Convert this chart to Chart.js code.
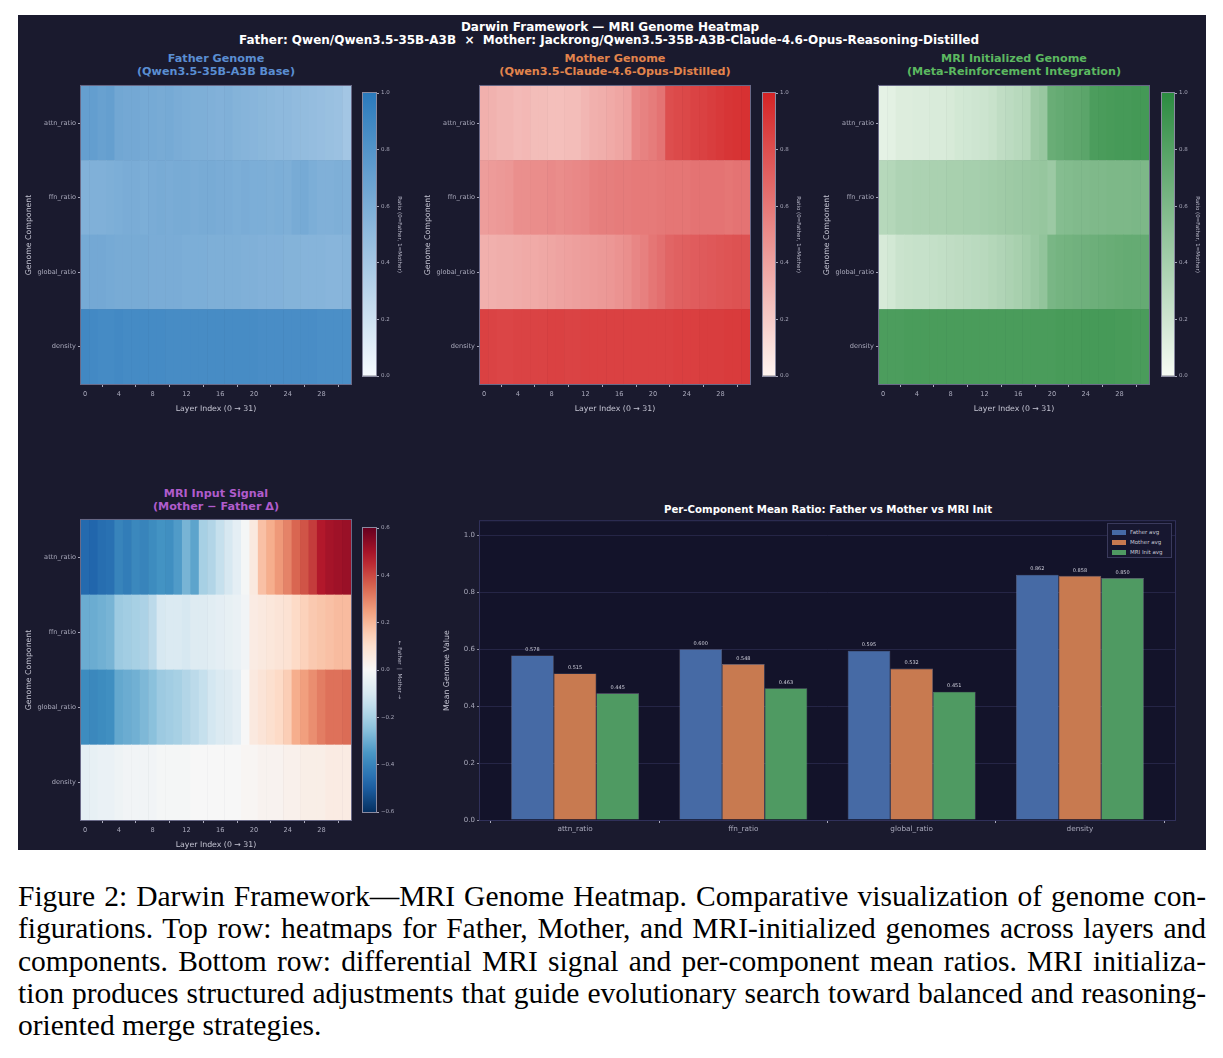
<!DOCTYPE html>
<html>
<head>
<meta charset="utf-8">
<script src="https://cdn.jsdelivr.net/npm/chart.js@4.4.1/dist/chart.umd.min.js"></script>
<style>
  body { margin: 0; background: #fff; width: 1223px; height: 1058px; position: relative; overflow: hidden; font-family: "DejaVu Sans", sans-serif; }
  #fig { position: absolute; left: 18px; top: 15px; width: 1188px; height: 835px; background: #1a1a2e; }
  canvas { position: absolute; }
  .t { position: absolute; text-align: center; font-weight: bold; white-space: nowrap; transform: translateX(-50%); line-height: 13px; font-size: 11.2px; }
  .cap { position: absolute; left: 18px; width: 1188px; font-family: "Liberation Serif", "Times New Roman", serif; font-size: 29.5px; line-height: 32px; color: #000; white-space: nowrap; }
  #leg { position: absolute; z-index: 10; left: 1107px; top: 523px; width: 65px; height: 35px; border: 1px solid #3a3a5c; background: #171730; font-size: 5.5px; color: #c8c8d4; box-sizing: border-box; padding: 3px 0 0 4px; }
  #leg div { height: 10px; line-height: 10px; white-space: nowrap; }
  #leg span { display: inline-block; width: 14px; height: 5px; margin-right: 4px; vertical-align: middle; }
</style>
</head>
<body>
<div id="fig"></div>

<div class="t" style="left:610px;top:21px;color:#fff;font-size:12px">Darwin Framework — MRI Genome Heatmap</div>
<div class="t" style="left:609px;top:34px;color:#fff;font-size:12px">Father: Qwen/Qwen3.5-35B-A3B &nbsp;×&nbsp; Mother: Jackrong/Qwen3.5-35B-A3B-Claude-4.6-Opus-Reasoning-Distilled</div>

<div class="t" style="left:216px;top:52px;color:#5a8ed2">Father Genome<br>(Qwen3.5-35B-A3B Base)</div>
<div class="t" style="left:615px;top:52px;color:#e2844c">Mother Genome<br>(Qwen3.5-Claude-4.6-Opus-Distilled)</div>
<div class="t" style="left:1014px;top:52px;color:#5cb860">MRI Initialized Genome<br>(Meta-Reinforcement Integration)</div>
<div class="t" style="left:216px;top:487px;color:#b05ccc">MRI Input Signal<br>(Mother − Father Δ)</div>
<div class="t" style="left:828px;top:503px;color:#fff;font-size:10.2px">Per-Component Mean Ratio: Father vs Mother vs MRI Init</div>

<div id="leg">
  <div><span style="background:#466aa5"></span>Father avg</div>
  <div><span style="background:#c87a50"></span>Mother avg</div>
  <div><span style="background:#4f9a62"></span>MRI Init avg</div>
</div>

<div class="cap just" style="top:880px"><span>Figure 2: Darwin Framework—MRI Genome Heatmap. Comparative visualization of genome con-</span></div>
<div class="cap just" style="top:912px"><span>figurations. Top row: heatmaps for Father, Mother, and MRI-initialized genomes across layers and</span></div>
<div class="cap just" style="top:945px"><span>components. Bottom row: differential MRI signal and per-component mean ratios. MRI initializa-</span></div>
<div class="cap just" style="top:977px"><span>tion produces structured adjustments that guide evolutionary search toward balanced and reasoning-</span></div>
<div class="cap" style="top:1009px"><span>oriented merge strategies.</span></div>

<script>
// ---- data ----
var components = ["attn_ratio", "ffn_ratio", "global_ratio", "density"];
var layers = [];
for (var i = 0; i < 32; i++) layers.push(i);

var fatherAttn = [0.71,0.72,0.70,0.71, 0.65,0.64,0.64,0.63,0.63,0.62,0.63,0.61, 0.60,0.59,0.59,0.58,0.57,0.58,0.56,0.55, 0.54,0.53,0.52,0.51,0.51,0.50,0.49,0.48, 0.47,0.46,0.45,0.41];
var fatherFfn = [0.57,0.58,0.58,0.59, 0.60,0.61,0.61,0.60,0.61,0.62,0.61,0.62, 0.62,0.61,0.62,0.62,0.61,0.61,0.60,0.61, 0.60,0.60,0.59,0.60,0.59,0.62,0.63,0.60, 0.58,0.58,0.59,0.58];
var fatherGlobal = [0.63,0.64,0.64,0.63, 0.62,0.62,0.62,0.62,0.61,0.61,0.61,0.61, 0.60,0.60,0.60,0.59,0.59,0.59,0.59,0.58, 0.58,0.57,0.57,0.57,0.56,0.56,0.55,0.55, 0.55,0.54,0.54,0.55];
var fatherDensity = [0.89,0.88,0.87,0.87, 0.88,0.87,0.87,0.87,0.87,0.87,0.86,0.86, 0.86,0.86,0.86,0.86,0.86,0.86,0.86,0.86, 0.86,0.85,0.85,0.85,0.85,0.85,0.85,0.85, 0.84,0.84,0.84,0.84];

var motherAttn = [0.33,0.32,0.30,0.30, 0.28,0.29,0.27,0.27,0.26,0.26,0.27,0.27, 0.30,0.33,0.34,0.36,0.38,0.40,0.52,0.55, 0.58,0.62,0.80,0.82,0.83,0.85,0.86,0.88, 0.90,0.92,0.93,0.94];
var motherFfn = [0.42,0.43,0.44,0.45, 0.49,0.49,0.50,0.50,0.51,0.50,0.51,0.52, 0.53,0.56,0.57,0.57,0.58,0.58,0.59,0.59, 0.59,0.60,0.61,0.61,0.61,0.62,0.62,0.62, 0.62,0.61,0.62,0.62];
var motherGlobal = [0.33,0.33,0.34,0.34,0.35,0.36,0.36,0.37, 0.38,0.39,0.40,0.41,0.42,0.43,0.44,0.45, 0.47,0.49,0.53,0.56,0.61,0.64, 0.69,0.71,0.72,0.73,0.74,0.75,0.76,0.77,0.78,0.78];
var motherDensity = [0.86,0.85,0.84,0.84, 0.85,0.85,0.85,0.85,0.86,0.86,0.85,0.85, 0.86,0.86,0.86,0.86,0.86,0.86,0.86,0.86, 0.86,0.86,0.86,0.87,0.87,0.87,0.88,0.88, 0.88,0.89,0.89,0.90];

var mriAttn = [0.09,0.10,0.13,0.13,0.14,0.14,0.15,0.15,0.16, 0.18,0.19,0.20,0.21,0.23, 0.27,0.29,0.31,0.33, 0.44,0.47, 0.70,0.72,0.74,0.75,0.77, 0.84,0.85,0.86,0.87,0.87,0.88,0.88];
var mriFfn = [0.32,0.33,0.36,0.36,0.37,0.37,0.38,0.38,0.39,0.39, 0.40,0.40,0.41,0.42,0.43,0.44,0.45,0.46,0.47,0.48, 0.45, 0.56,0.57,0.58,0.58,0.59,0.59,0.60,0.60,0.60,0.61,0.60];
var mriGlobal = [0.16,0.18, 0.22,0.23,0.24,0.24,0.25,0.26,0.27,0.28,0.29,0.30,0.31, 0.33,0.35,0.37,0.39,0.42,0.46,0.50, 0.62,0.64,0.65,0.66,0.67,0.68,0.69,0.70,0.71,0.72,0.72,0.72];
var mriDensity = [0.84,0.84,0.84,0.85, 0.85,0.85,0.85,0.85,0.85,0.85,0.85,0.85, 0.85,0.85,0.85,0.85,0.85,0.85,0.85,0.85, 0.85,0.86,0.86,0.86,0.87,0.87,0.87,0.87, 0.86,0.86,0.85,0.85];

var signalAttn = [-0.47,-0.48,-0.46,-0.45, -0.40,-0.42,-0.39,-0.40, -0.38,-0.36,-0.37,-0.34, -0.28,-0.32,-0.20,-0.18, -0.14,-0.10,-0.06,-0.01, 0.06,0.18,0.22,0.26, 0.30,0.35,0.38,0.42, 0.48,0.50,0.51,0.52];
var signalFfn = [-0.30,-0.30,-0.29,-0.28, -0.22,-0.21,-0.20,-0.19,-0.16, -0.10,-0.09,-0.09,-0.10,-0.08,-0.08,-0.07, -0.06,-0.05,-0.04,-0.02, 0.05,0.06,0.07,0.08,0.09, 0.12,0.14,0.16,0.17,0.18,0.19,0.19];
var signalGlobal = [-0.38,-0.39,-0.38,-0.37, -0.31,-0.30,-0.29,-0.27,-0.25, -0.22,-0.21,-0.20,-0.18,-0.16,-0.14, -0.11,-0.09,-0.08,-0.06, 0.00, 0.06,0.08,0.10,0.12,0.15, 0.22,0.25,0.28,0.31,0.33,0.33,0.34];
var signalDensity = [-0.06,-0.05,-0.04,-0.04,-0.03,-0.02,-0.02,-0.02,-0.02,-0.01,-0.01,-0.01,-0.01,0.00,0.00,0.00, 0.00,0.00,0.00,0.01,0.01,0.02,0.02,0.02,0.03,0.03,0.04,0.04,0.04,0.05,0.05,0.05];

var fatherAvg = [0.578, 0.600, 0.595, 0.862];
var motherAvg = [0.515, 0.548, 0.532, 0.858];
var mriAvg = [0.445, 0.463, 0.451, 0.850];

// justify caption lines by hand (word spacing fills the full width)
document.querySelectorAll(".cap.just span").forEach(function (sp) {
  var w = sp.getBoundingClientRect().width;
  var gaps = sp.textContent.split(" ").length - 1;
  sp.style.wordSpacing = ((1188 - w) / gaps) + "px";
});

// ---- styling ----
var tickCol = "#a9a9bb";
var frameCol = "#5a5a7a";
var smallFont = { family: "DejaVu Sans", size: 6.6 };
var titleFont = { family: "DejaVu Sans", size: 7.8 };

function rgb(c) { return "rgb(" + c.map(Math.round).join(",") + ")"; }
function linearCmap(c0, c1) {
  return function (v) {
    var t = Math.max(0, Math.min(1, v));
    return rgb(c0.map(function (a, i) { return a + (c1[i] - a) * t; }));
  };
}
var blues = linearCmap([247, 251, 255], [42, 122, 188]);
var reds = linearCmap([255, 245, 240], [212, 36, 38]);
var greens = linearCmap([247, 252, 245], [44, 139, 64]);
var rdbuStops = [[5,48,97],[33,102,172],[67,147,195],[146,197,222],[209,229,240],[247,247,247],[253,219,199],[244,165,130],[214,96,77],[178,24,43],[103,0,31]];
function rdbu(v) {
  var t = Math.max(0, Math.min(1, (v + 0.6) / 1.2)) * 10;
  var k = Math.min(9, Math.floor(t)), f = t - k;
  var a = rdbuStops[k], b = rdbuStops[k + 1];
  return rgb(a.map(function (x, i) { return x + (b[i] - x) * f; }));
}

function makeCanvas(left, top, w, h) {
  var c = document.createElement("canvas");
  c.width = w; c.height = h;
  c.style.left = left + "px"; c.style.top = top + "px";
  c.style.width = w + "px"; c.style.height = h + "px";
  document.body.appendChild(c);
  return c;
}

// frame round the plot area
var framePlugin = {
  id: "frame",
  afterDraw: function (chart, args, opts) {
    var a = chart.chartArea, ctx = chart.ctx;
    ctx.save();
    ctx.strokeStyle = opts.color || frameCol;
    ctx.lineWidth = 1;
    ctx.strokeRect(a.left - 0.5, a.top - 0.5, a.right - a.left + 1, a.bottom - a.top + 1);
    ctx.restore();
  }
};

function heatmap(area, rows, cmap) {
  var padL = 6, yW = 57, xH = 30, padT = 5, padR = 7;
  var n = rows.length;
  var cv = makeCanvas(area.x0 - yW - padL, area.y0 - padT, area.x1 - area.x0 + yW + padL + padR, area.y1 - area.y0 + padT + xH);
  var datasets = rows.map(function (vals) {
    return {
      data: layers.map(function () { return 1; }),
      backgroundColor: vals.map(cmap),
      borderWidth: 0, barPercentage: 1, categoryPercentage: 1
    };
  }).reverse();
  new Chart(cv, {
    type: "bar",
    data: { labels: layers, datasets: datasets },
    options: {
      responsive: false, animation: false, devicePixelRatio: 1,
      layout: { padding: { top: padT, right: padR, left: padL, bottom: 0 } },
      plugins: { legend: { display: false }, tooltip: { enabled: false }, frame: { color: "#6a6a88" } },
      scales: {
        x: {
          stacked: true,
          grid: { drawOnChartArea: false, tickLength: 3, color: tickCol },
          border: { display: false },
          ticks: { color: tickCol, font: smallFont, autoSkip: false, maxRotation: 0, padding: 3,
            callback: function (v, i) { return i % 4 === 0 ? String(i) : null; } },
          title: { display: true, text: "Layer Index (0 → 31)", color: "#c4c4d2", font: titleFont, padding: { top: 1, bottom: 0 } },
          afterFit: function (s) { s.height = xH; }
        },
        y: {
          stacked: true, min: 0, max: n,
          afterBuildTicks: function (s) {
            s.ticks = components.map(function (_, i) { return { value: n - i - 0.5 }; });
          },
          grid: { drawOnChartArea: false, tickLength: 3, color: tickCol },
          border: { display: false },
          ticks: { color: tickCol, font: smallFont, padding: 2,
            callback: function (v) { return components[Math.round(n - 0.5 - v)]; } },
          title: { display: true, text: "Genome Component", color: "#c4c4d2", font: titleFont, padding: 0 },
          afterFit: function (s) { s.width = yW; }
        }
      }
    },
    plugins: [framePlugin]
  });
}

function fmtTick(v) {
  var s = Math.abs(v) < 1e-9 ? "0.0" : v.toFixed(1);
  return s.replace("-", "\u2212");
}

function colorbar(area, lo, hi, step, cmap, label) {
  var padL = 4, axW = 28, padT = 8, padB = 40;
  var cv = makeCanvas(area.x0 - padL, area.y0 - padT, area.x1 - area.x0 + padL + axW, area.y1 - area.y0 + padT + padB);
  new Chart(cv, {
    type: "bar",
    data: {
      labels: [""],
      datasets: [{
        data: [[lo, hi]],
        backgroundColor: function (ctx) {
          var ca = ctx.chart.chartArea;
          if (!ca) return "#fff";
          var g = ctx.chart.ctx.createLinearGradient(0, ca.bottom, 0, ca.top);
          for (var k = 0; k <= 24; k++) g.addColorStop(k / 24, cmap(lo + (hi - lo) * k / 24));
          return g;
        },
        borderWidth: 0, barPercentage: 1, categoryPercentage: 1
      }]
    },
    options: {
      responsive: false, animation: false, devicePixelRatio: 1,
      layout: { padding: { top: padT, left: padL, bottom: padB, right: 0 } },
      plugins: { legend: { display: false }, tooltip: { enabled: false }, frame: { color: "#8a8aa0" } },
      scales: {
        x: { display: false },
        y: {
          position: "right", min: lo, max: hi,
          grid: { drawOnChartArea: false, tickLength: 3, color: tickCol },
          border: { display: false },
          ticks: { stepSize: step, color: tickCol, font: { family: "DejaVu Sans", size: 5.5 }, padding: 2, callback: fmtTick },
          title: { display: true, text: label, color: "#b8b8c8", font: { family: "DejaVu Sans", size: 5.5 }, padding: 1 },
          afterFit: function (s) { s.width = axW; }
        }
      }
    },
    plugins: [framePlugin]
  });
}

var cbLabel = "Ratio (0=Father, 1=Mother)";
heatmap({ x0: 81, y0: 85, x1: 351, y1: 384 }, [fatherAttn, fatherFfn, fatherGlobal, fatherDensity], blues);
colorbar({ x0: 363, y0: 93, x1: 376, y1: 376 }, 0, 1, 0.2, blues, cbLabel);
heatmap({ x0: 480, y0: 85, x1: 750, y1: 384 }, [motherAttn, motherFfn, motherGlobal, motherDensity], reds);
colorbar({ x0: 763, y0: 93, x1: 775, y1: 376 }, 0, 1, 0.2, reds, cbLabel);
heatmap({ x0: 879, y0: 85, x1: 1149, y1: 384 }, [mriAttn, mriFfn, mriGlobal, mriDensity], greens);
colorbar({ x0: 1162, y0: 93, x1: 1174, y1: 376 }, 0, 1, 0.2, greens, cbLabel);
heatmap({ x0: 81, y0: 519, x1: 351, y1: 820 }, [signalAttn, signalFfn, signalGlobal, signalDensity], rdbu);
colorbar({ x0: 363, y0: 528, x1: 376, y1: 812 }, -0.6, 0.6, 0.2, rdbu, "← Father  |  Mother →");

// ---- bar chart ----
var plotBg = {
  id: "plotBg",
  beforeDraw: function (chart) {
    var a = chart.chartArea, ctx = chart.ctx;
    ctx.save();
    ctx.fillStyle = "#13132a";
    ctx.fillRect(a.left, a.top, a.right - a.left, a.bottom - a.top);
    ctx.restore();
  }
};
var valueLabels = {
  id: "valueLabels",
  afterDatasetsDraw: function (chart) {
    var ctx = chart.ctx;
    ctx.save();
    ctx.fillStyle = "#d0d0dc";
    ctx.font = "5px 'DejaVu Sans'";
    ctx.textAlign = "center";
    ctx.textBaseline = "bottom";
    chart.data.datasets.forEach(function (ds, di) {
      chart.getDatasetMeta(di).data.forEach(function (bar, j) {
        ctx.fillText(ds.data[j].y.toFixed(3), bar.x, bar.y - 3);
      });
    });
    ctx.restore();
  }
};
function points(vals) { return vals.map(function (v, i) { return { x: i, y: v }; }); }

var barCv = makeCanvas(440, 515, 766, 335);
var edge = "rgba(220,220,235,0.45)";
new Chart(barCv, {
  type: "bar",
  data: {
    datasets: [
      { label: "Father avg", data: points(fatherAvg), backgroundColor: "#466aa5", borderColor: edge, borderWidth: 0.6 },
      { label: "Mother avg", data: points(motherAvg), backgroundColor: "#c87a50", borderColor: edge, borderWidth: 0.6 },
      { label: "MRI Init avg", data: points(mriAvg), backgroundColor: "#4f9a62", borderColor: edge, borderWidth: 0.6 }
    ]
  },
  options: {
    responsive: false, animation: false, devicePixelRatio: 1,
    categoryPercentage: 0.76, barPercentage: 1,
    layout: { padding: { top: 5, right: 31, left: 0, bottom: 8 } },
    plugins: { legend: { display: false }, tooltip: { enabled: false }, frame: { color: "#30305a" } },
    scales: {
      x: {
        type: "linear", min: -0.565, max: 3.565, offset: false,
        afterBuildTicks: function (s) { s.ticks = components.map(function (_, i) { return { value: i }; }); },
        grid: { drawOnChartArea: false, tickLength: 3, color: tickCol },
        border: { display: false },
        ticks: { color: tickCol, font: { family: "DejaVu Sans", size: 7.3 }, padding: 2,
          callback: function (v) { return components[Math.round(v)]; } },
        afterFit: function (s) { s.height = 22; }
      },
      y: {
        min: 0, max: 1.05,
        afterBuildTicks: function (s) { s.ticks = s.ticks.filter(function (t) { return t.value <= 1.0001; }); },
        grid: { color: "#2b2b4e", lineWidth: 0.8, tickLength: 3, tickColor: tickCol },
        border: { display: false },
        ticks: { stepSize: 0.2, color: tickCol, font: { family: "DejaVu Sans", size: 7 }, padding: 2,
          callback: function (v) { return v.toFixed(1); } },
        title: { display: true, text: "Mean Genome Value", color: "#c4c4d2", font: titleFont, padding: 2 },
        afterFit: function (s) { s.width = 40; }
      }
    }
  },
  plugins: [plotBg, valueLabels, framePlugin]
});
</script>
</body>
</html>
